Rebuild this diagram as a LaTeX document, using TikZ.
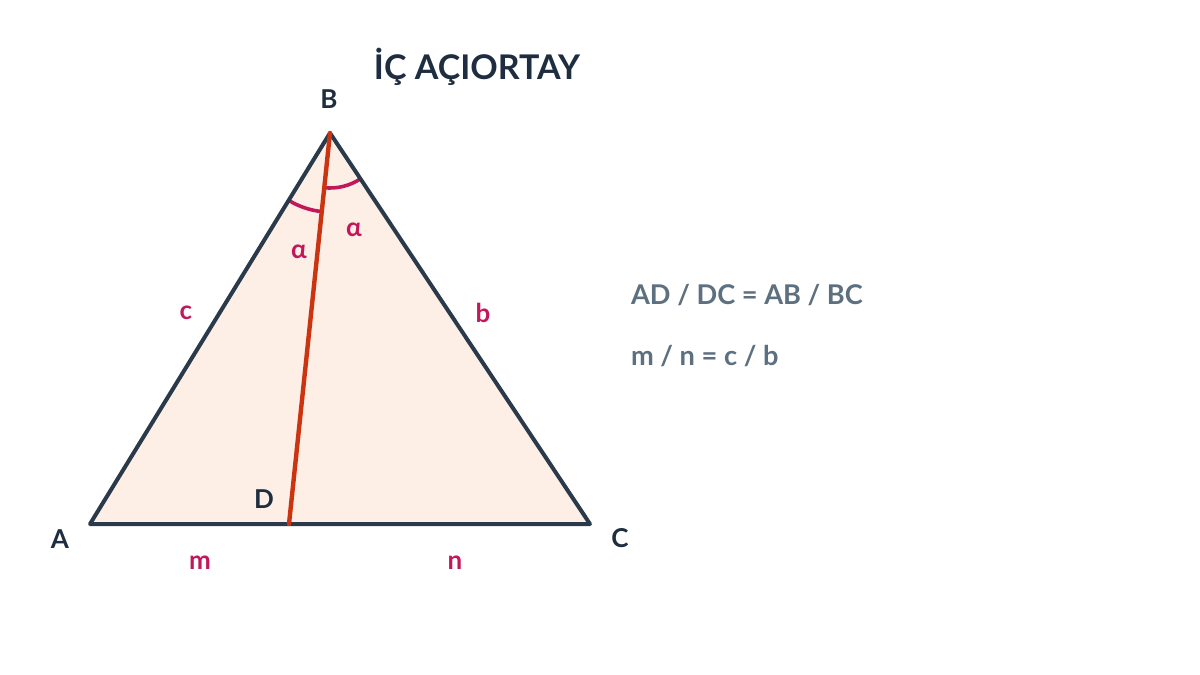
\documentclass[tikz,border=0pt]{standalone}
\usepackage{fontspec}
\setmainfont{Lato}
\definecolor{navy}{HTML}{1E2D40}
\definecolor{edge}{HTML}{2B3A4A}
\definecolor{tri}{HTML}{FDEEE6}
\definecolor{bis}{HTML}{CC3311}
\definecolor{mag}{HTML}{C2185B}
\definecolor{eqg}{HTML}{5D7080}
\tikzset{
  vlabel/.style={font=\bfseries\fontsize{13}{15}\selectfont, text=navy},
  mlabel/.style={font=\bfseries\fontsize{13}{15}\selectfont, text=mag},
  eqlabel/.style={font=\bfseries\fontsize{13.6}{16}\selectfont, text=eqg, anchor=west},
  side/.style={draw=edge, line width=2pt, line join=round, line cap=round},
  arcline/.style={draw=mag, line width=1.8pt}
}
\begin{document}
\begin{tikzpicture}[x=0.5pt,y=-0.5pt]
\useasboundingbox (0,0) rectangle (1200,675);
\coordinate (A) at (90,524);
\coordinate (B) at (330,133);
\coordinate (C) at (590,524);
\coordinate (D) at (289,524);
\fill[tri] (A) -- (B) -- (C) -- cycle;
% angle arcs
\draw[arcline] (B) ++(121.5:79) arc[start angle=121.5, end angle=96.0, radius=79];
\draw[arcline] (B) ++(96.0:55) arc[start angle=96.0, end angle=56.4, radius=55];
\draw[side] (A) -- (B) -- (C) -- cycle;
\draw[draw=bis, line width=2.2pt, line cap=round] (B) -- (D);
\node[vlabel] (lB) at (329,99) {B};
\node[vlabel] (lA) at (60,539) {A};
\node[vlabel] (lC) at (620,538) {C};
\node[vlabel] (lD) at (264,499) {D};
\node[mlabel] (lc) at (186,313) {c};
\node[mlabel] (lb) at (483,313) {b};
\node[mlabel] (lm) at (200,563) {m};
\node[mlabel] (ln) at (455,563) {n};
\node[mlabel] (a1) at (299,252) {α};
\node[mlabel] (a2) at (354,230) {α};
\node[font=\bfseries\fontsize{17}{19}\selectfont, text=navy] (title) at (477,67) {İÇ AÇIORTAY};
\node[eqlabel] (eq1) at (624,295) {AD / DC = AB / BC};
\node[eqlabel] (eq2) at (624,356) {m / n = c / b};
\end{tikzpicture}
\end{document}
